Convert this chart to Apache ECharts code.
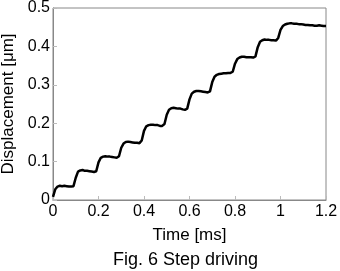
<!DOCTYPE html>
<html><head><meta charset="utf-8">
<script src="https://cdn.jsdelivr.net/npm/echarts@6/dist/echarts.min.js"></script>
<style>html,body{margin:0;padding:0;background:#fff}#c{width:340px;height:271px}</style>
</head><body><div id="c"></div>
<script>
const times = [];
for (let i = 0; i <= 120; i++) times.push(+(i * 0.01).toFixed(2));
const displacement = [
0.008,0.028,0.035,0.037,0.036,0.037,0.036,0.035,0.035,0.036,
0.058,0.074,0.077,0.078,0.076,0.076,0.075,0.074,0.073,0.075,
0.098,0.110,0.113,0.114,0.113,0.113,0.112,0.111,0.110,0.114,
0.136,0.147,0.151,0.152,0.151,0.150,0.149,0.149,0.148,0.155,
0.180,0.192,0.195,0.196,0.196,0.195,0.195,0.193,0.193,0.198,
0.222,0.235,0.239,0.240,0.239,0.238,0.238,0.236,0.235,0.238,
0.262,0.277,0.282,0.284,0.284,0.283,0.282,0.281,0.280,0.283,
0.307,0.321,0.326,0.328,0.329,0.330,0.330,0.331,0.331,0.334,
0.355,0.367,0.371,0.373,0.373,0.372,0.372,0.372,0.371,0.374,
0.398,0.412,0.416,0.418,0.417,0.417,0.416,0.416,0.415,0.422,
0.443,0.453,0.457,0.459,0.460,0.460,0.459,0.459,0.458,0.458,
0.457,0.456,0.456,0.455,0.455,0.454,0.454,0.455,0.454,0.453,0.453];
const xTicks = [0, 0.2, 0.4, 0.6, 0.8, 1, 1.2];
const yTicks = [0, 0.1, 0.2, 0.3, 0.4, 0.5];
const xTitle = 'Time [ms]';
const yTitle = 'Displacement [μm]';
const caption = 'Fig. 6 Step driving';

const font = '"Liberation Sans", Arial, sans-serif';
const chart = echarts.init(document.getElementById('c'), null, {renderer: 'canvas'});
chart.setOption({
  animation: false,
  backgroundColor: '#fff',
  title: {text: caption, left: 108, top: 246,
    textStyle: {fontFamily: font, fontSize: 18, fontWeight: 'normal', color: '#000'}},
  grid: {left: 53, right: 14, top: 8, bottom: 71, show: true, borderColor: '#888', borderWidth: 1,
    containLabel: false, outerBoundsMode: 'none'},
  xAxis: {type: 'value', min: 0, max: 1.2, interval: 0.2,
    name: xTitle, nameLocation: 'middle', nameGap: 27,
    nameTextStyle: {fontFamily: font, fontSize: 17, color: '#000'},
    axisLine: {lineStyle: {color: '#888'}},
    axisTick: {inside: true, length: 4, lineStyle: {color: '#bbb'}},
    splitLine: {show: false},
    axisLabel: {fontFamily: font, fontSize: 16, color: '#000', margin: 4,
      formatter: v => xTicks.includes(+v.toFixed(2)) ? String(+v.toFixed(2)) : ''}},
  yAxis: {type: 'value', min: 0, max: 0.5, interval: 0.1,
    name: yTitle, nameLocation: 'middle', nameGap: 31,
    nameTextStyle: {fontFamily: font, fontSize: 17, color: '#000'},
    axisLine: {show: true, lineStyle: {color: '#888'}},
    axisTick: {show: true, inside: true, length: 4, lineStyle: {color: '#bbb'}},
    splitLine: {show: false},
    axisLabel: {fontFamily: font, fontSize: 16, color: '#000', margin: 3,
      formatter: v => yTicks.includes(+v.toFixed(2)) ? String(+v.toFixed(2)) : ''}},
  series: [{type: 'line', data: times.map((t, i) => [t, displacement[i]]),
    showSymbol: false, lineStyle: {color: '#000', width: 2.5}}]
});
</script></body></html>
